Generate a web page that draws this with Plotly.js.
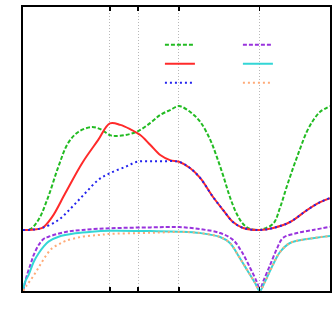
<!DOCTYPE html>
<html>
<head>
<meta charset="utf-8">
<script src="https://cdn.plot.ly/plotly-3.0.1.min.js"></script>
<style>
  html, body { margin: 0; padding: 0; background: #fff; }
  #plotArea { width: 334px; height: 322px; }
</style>
</head>
<body>
<div id="plotArea"></div>
<script>
// high-symmetry points along the path (interior ones get a gridline)
var kPoints = [0.283, 0.375, 0.508, 0.771];

// optical branches
var xGreen = [0, 0.024, 0.050, 0.082, 0.115, 0.147, 0.180, 0.222, 0.252, 0.283, 0.300, 0.333, 0.375, 0.415, 0.447, 0.479, 0.508,
              0.544, 0.577, 0.610, 0.631, 0.653, 0.674, 0.696, 0.717, 0.740, 0.771,
              0.788, 0.816, 0.838, 0.859, 0.881, 0.903, 0.924, 0.946, 0.968, 1.0];
var yGreen = [2.15, 2.18, 2.50, 3.31, 4.37, 5.21, 5.60, 5.77, 5.70, 5.49, 5.46, 5.49, 5.63, 5.92, 6.20, 6.37, 6.51,
              6.31, 5.96, 5.32, 4.73, 4.03, 3.31, 2.72, 2.36, 2.18, 2.15,
              2.20, 2.38, 2.96, 3.67, 4.37, 5.02, 5.60, 6.02, 6.31, 6.51];

var xRed = [0, 0.030, 0.063, 0.095, 0.138, 0.193, 0.245, 0.283, 0.317, 0.349, 0.382, 0.415, 0.447, 0.479, 0.508,
            0.544, 0.577, 0.619, 0.652, 0.684, 0.717, 0.771, 0.815, 0.870, 0.925, 0.968, 1.0];
var yRed = [2.15, 2.16, 2.22, 2.61, 3.45, 4.51, 5.32, 5.90, 5.85, 5.70, 5.49, 5.14, 4.79, 4.61, 4.55,
            4.33, 3.98, 3.31, 2.85, 2.43, 2.22, 2.15, 2.22, 2.43, 2.85, 3.13, 3.27];

var xBlue = [0, 0.030, 0.063, 0.115, 0.160, 0.203, 0.245, 0.283, 0.333, 0.372, 0.415, 0.460, 0.508,
             0.544, 0.577, 0.619, 0.652, 0.684, 0.717, 0.771, 0.815, 0.870, 0.925, 0.968, 1.0];
var yBlue = [2.15, 2.16, 2.22, 2.50, 2.96, 3.45, 3.91, 4.15, 4.37, 4.55, 4.57, 4.57, 4.55,
             4.33, 3.98, 3.31, 2.85, 2.43, 2.22, 2.15, 2.22, 2.43, 2.85, 3.13, 3.27];

// acoustic branches
var xPurple = [0, 0.013, 0.024, 0.035, 0.051, 0.067, 0.083, 0.138, 0.193, 0.284, 0.415, 0.508, 0.577, 0.642, 0.684, 0.713, 0.740, 0.763, 0.771,
               0.782, 0.805, 0.828, 0.847, 0.893, 0.945, 1.0];
var yPurple = [0, 0.56, 0.92, 1.27, 1.62, 1.83, 1.91, 2.08, 2.15, 2.21, 2.24, 2.25, 2.18, 2.04, 1.80, 1.37, 0.81, 0.28, 0,
               0.32, 0.92, 1.51, 1.87, 2.04, 2.15, 2.26];

var xCyan = [0, 0.007, 0.018, 0.035, 0.051, 0.067, 0.083, 0.116, 0.170, 0.224, 0.284, 0.415, 0.508, 0.577, 0.642, 0.674, 0.700, 0.730, 0.756, 0.771,
             0.788, 0.814, 0.837, 0.870, 0.925, 1.0];
var yCyan = [0, 0.33, 0.56, 1.03, 1.33, 1.56, 1.74, 1.91, 2.03, 2.09, 2.12, 2.11, 2.09, 2.04, 1.90, 1.69, 1.27, 0.74, 0.28, 0,
             0.32, 0.92, 1.37, 1.69, 1.83, 1.94];

var xOrange = [0, 0.013, 0.029, 0.046, 0.062, 0.078, 0.094, 0.116, 0.138, 0.192, 0.246, 0.284, 0.375, 0.447, 0.508,
               0.577, 0.642, 0.674, 0.700, 0.730, 0.756, 0.771, 0.788, 0.814, 0.837, 0.870, 0.925, 1.0];
var yOrange = [0, 0.21, 0.45, 0.74, 1.03, 1.29, 1.50, 1.64, 1.76, 1.91, 1.97, 2.01, 2.04, 2.06, 2.08,
               2.04, 1.90, 1.69, 1.27, 0.74, 0.28, 0, 0.32, 0.92, 1.37, 1.69, 1.83, 1.94];

function branch(x, y, color, dash, legend) {
    return {
        x: x, y: y, name: ' ', legend: legend,
        type: 'scatter', mode: 'lines',
        line: {color: color, width: 2, dash: dash, shape: 'spline', smoothing: 1}
    };
}

var traces = [
    branch(xGreen, yGreen, '#22bb22', '4px,2px', 'legend'),
    branch(xRed, yRed, '#ff2a2a', 'solid', 'legend'),
    branch(xBlue, yBlue, '#2222ee', '2px,3px', 'legend'),
    branch(xPurple, yPurple, '#9933dd', '4px,2px', 'legend2'),
    branch(xCyan, yCyan, '#33d6d6', 'solid', 'legend2'),
    branch(xOrange, yOrange, '#ffaa77', '2px,3px', 'legend2')
];

var legendStyle = {
    x: 0.446, xanchor: 'left', y: 0.918, yanchor: 'top',
    bgcolor: 'rgba(0,0,0,0)', borderwidth: 0,
    font: {size: 11, family: 'DejaVu Sans'}
};

var layout = {
    width: 334, height: 322,
    margin: {l: 23, r: 4, t: 7, b: 31},
    paper_bgcolor: '#fff', plot_bgcolor: '#fff',
    showlegend: true,
    legend: legendStyle,
    legend2: Object.assign({}, legendStyle, {x: 0.700}),
    xaxis: {
        range: [0, 1], zeroline: false,
        tickvals: kPoints, showticklabels: false,
        ticks: 'inside', ticklen: 4, tickwidth: 1.5, tickcolor: '#000',
        showgrid: true, gridcolor: '#b8b8b8', gridwidth: 1, griddash: '1px,2px',
        showline: true, linecolor: '#000', linewidth: 2, mirror: 'ticks'
    },
    yaxis: {
        range: [0, 10], zeroline: false,
        showgrid: false, ticks: '', showticklabels: false,
        showline: true, linecolor: '#000', linewidth: 2, mirror: true
    },
    shapes: [{
        type: 'rect', xref: 'paper', yref: 'paper', layer: 'between',
        x0: 0.342, x1: 0.853, y0: 0.701, y1: 0.947,
        fillcolor: '#fff', line: {width: 0}
    }],
    hovermode: false
};

Plotly.newPlot('plotArea', traces, layout, {displayModeBar: false, staticPlot: true});
</script>
</body>
</html>
